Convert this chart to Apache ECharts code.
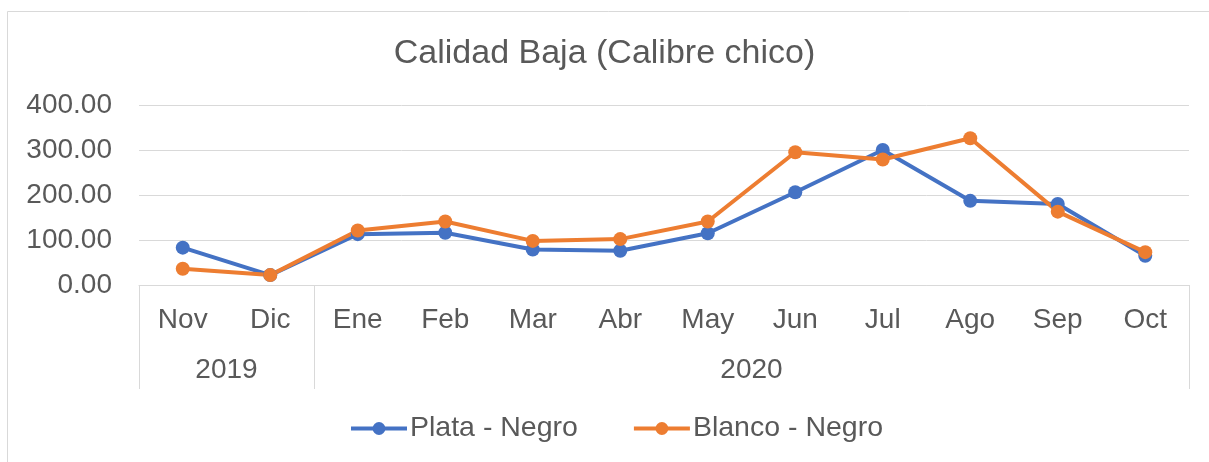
<!DOCTYPE html>
<html>
<head>
<meta charset="utf-8">
<script src="https://cdn.jsdelivr.net/npm/echarts@6/dist/echarts.min.js"></script>
<style>
  html, body { margin: 0; padding: 0; background: #fff; }
  #chart { width: 1209px; height: 462px; }
</style>
</head>
<body>
<div id="chart"></div>
<script>
// datos
var meses = ['Nov', 'Dic', 'Ene', 'Feb', 'Mar', 'Abr', 'May', 'Jun', 'Jul', 'Ago', 'Sep', 'Oct'];
var anios = ['2019', '2020'];
var mesesPorAnio = [2, 10];
var plataNegro = [83, 22, 113, 116, 79, 76, 115, 206, 300, 187, 180, 65];
var blancoNegro = [36, 22, 121, 141, 98, 102, 141, 295, 279, 326, 163, 73];
var yTicks = [0, 100, 200, 300, 400];

var texto = '#595959';
var gris = '#D9D9D9';
var fuente = 'Liberation Sans, Arial, sans-serif';

// limites y centros de cada anio sobre el eje
var limites = [0];
var centros = [];
mesesPorAnio.forEach(function (n, i) {
    var ini = limites[i];
    limites.push(ini + n);
    centros.push(ini + n / 2);
});

var myChart = echarts.init(document.getElementById('chart'));
var option = {
    backgroundColor: '#fff',
    animation: false,
    textStyle: { fontFamily: fuente },
    title: {
        text: 'Calidad Baja (Calibre chico)',
        left: 'center',
        top: 32,
        textStyle: { color: texto, fontSize: 34, fontWeight: 'normal', fontFamily: fuente }
    },
    graphic: [{
        type: 'rect',
        shape: { x: 7.5, y: 11.5, width: 1300, height: 500 },
        style: { fill: 'none', stroke: gris, lineWidth: 1 },
        silent: true
    }],
    legend: {
        top: 409,
        left: 344,
        itemWidth: 56,
        itemHeight: 16,
        itemGap: 54,
        lineStyle: { width: 4 },
        textStyle: { color: texto, fontSize: 28.5, fontFamily: fuente, padding: [0, 0, 0, -2] },
        data: ['Plata - Negro', 'Blanco - Negro']
    },
    grid: { left: 139, right: 20, top: 105, bottom: 177 },
    xAxis: [{
        type: 'category',
        data: meses,
        boundaryGap: true,
        axisLine: { show: true, lineStyle: { color: gris, width: 1 } },
        axisTick: { show: false },
        axisLabel: { color: texto, fontSize: 28, margin: 21, interval: 0, fontFamily: fuente }
    }, {
        type: 'value',
        min: 0,
        max: meses.length,
        position: 'bottom',
        axisLine: { show: false },
        splitLine: { show: false },
        axisTick: {
            show: true,
            customValues: limites,
            length: 104,
            lineStyle: { color: gris, width: 1 }
        },
        axisLabel: {
            customValues: centros,
            color: texto,
            fontSize: 28,
            margin: 71,
            fontFamily: fuente,
            formatter: function (v) {
                var i = centros.indexOf(v);
                return i >= 0 ? anios[i] : '';
            }
        }
    }],
    yAxis: {
        type: 'value',
        min: yTicks[0],
        max: yTicks[yTicks.length - 1],
        interval: 100,
        axisLine: { show: false },
        axisTick: { show: false },
        splitLine: { lineStyle: { color: gris, width: 1 } },
        axisLabel: {
            color: texto,
            fontSize: 28,
            margin: 27,
            fontFamily: fuente,
            formatter: function (v) { return v.toFixed(2); }
        }
    },
    series: [{
        name: 'Plata - Negro',
        type: 'line',
        data: plataNegro,
        symbol: 'circle',
        symbolSize: 14,
        color: '#4472C4',
        lineStyle: { width: 4, color: '#4472C4' },
        itemStyle: { color: '#4472C4' }
    }, {
        name: 'Blanco - Negro',
        type: 'line',
        data: blancoNegro,
        symbol: 'circle',
        symbolSize: 14,
        color: '#ED7D31',
        lineStyle: { width: 4, color: '#ED7D31' },
        itemStyle: { color: '#ED7D31' }
    }]
};
myChart.setOption(option);
window.onresize = myChart.resize;
</script>
</body>
</html>
